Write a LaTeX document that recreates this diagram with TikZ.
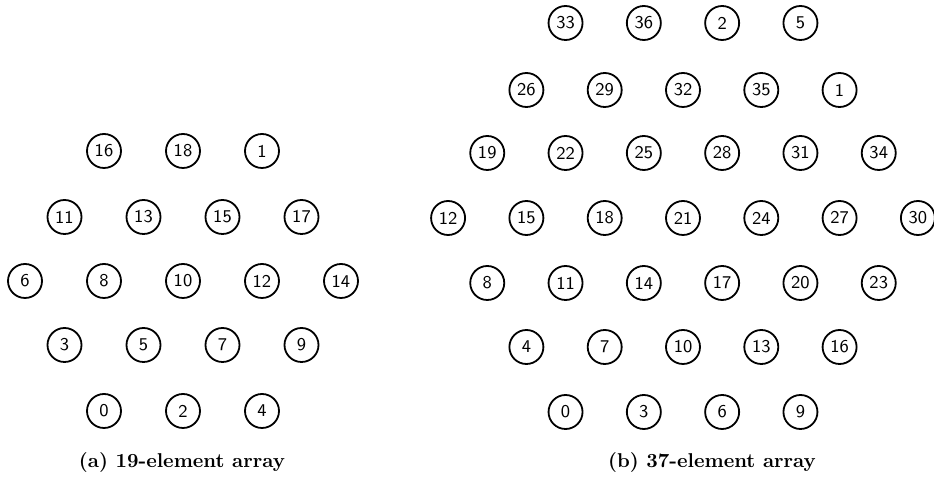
\documentclass[tikz,border=0pt]{standalone}
\usepackage{tikz}

\begin{document}
\begin{tikzpicture}[
    x=0.5pt, y=-0.5pt,
    element/.style={circle, draw, line width=0.9pt, minimum size=17pt, inner sep=0pt, font=\sffamily\small},
    caption/.style={font=\bfseries}
]
\useasboundingbox (0,0) rectangle (934,485);

% 19-element array
\foreach \lab [count=\k from 0] in {16,18,1}
    \node[element] (a\lab) at ({183+(\k-1)*79}, 151) {\lab};
\foreach \lab [count=\k from 0] in {11,13,15,17}
    \node[element] (a\lab) at ({183+(\k-1.5)*79}, 217) {\lab};
\foreach \lab [count=\k from 0] in {6,8,10,12,14}
    \node[element] (a\lab) at ({183+(\k-2)*79}, 281) {\lab};
\foreach \lab [count=\k from 0] in {3,5,7,9}
    \node[element] (a\lab) at ({183+(\k-1.5)*79}, 345) {\lab};
\foreach \lab [count=\k from 0] in {0,2,4}
    \node[element] (a\lab) at ({183+(\k-1)*79}, 411) {\lab};
\node[caption] (capa) at (182,462) {(a) 19-element array};

% 37-element array
\foreach \lab [count=\k from 0] in {33,36,2,5}
    \node[element] (b\lab) at ({683+(\k-1.5)*78.3}, 23) {\lab};
\foreach \lab [count=\k from 0] in {26,29,32,35,1}
    \node[element] (b\lab) at ({683+(\k-2)*78.3}, 90) {\lab};
\foreach \lab [count=\k from 0] in {19,22,25,28,31,34}
    \node[element] (b\lab) at ({683+(\k-2.5)*78.3}, 153) {\lab};
\foreach \lab [count=\k from 0] in {12,15,18,21,24,27,30}
    \node[element] (b\lab) at ({683+(\k-3)*78.3}, 218) {\lab};
\foreach \lab [count=\k from 0] in {8,11,14,17,20,23}
    \node[element] (b\lab) at ({683+(\k-2.5)*78.3}, 283) {\lab};
\foreach \lab [count=\k from 0] in {4,7,10,13,16}
    \node[element] (b\lab) at ({683+(\k-2)*78.3}, 347) {\lab};
\foreach \lab [count=\k from 0] in {0,3,6,9}
    \node[element] (b\lab) at ({683+(\k-1.5)*78.3}, 412) {\lab};
\node[caption] (capb) at (712,462) {(b) 37-element array};

\end{tikzpicture}
\end{document}
